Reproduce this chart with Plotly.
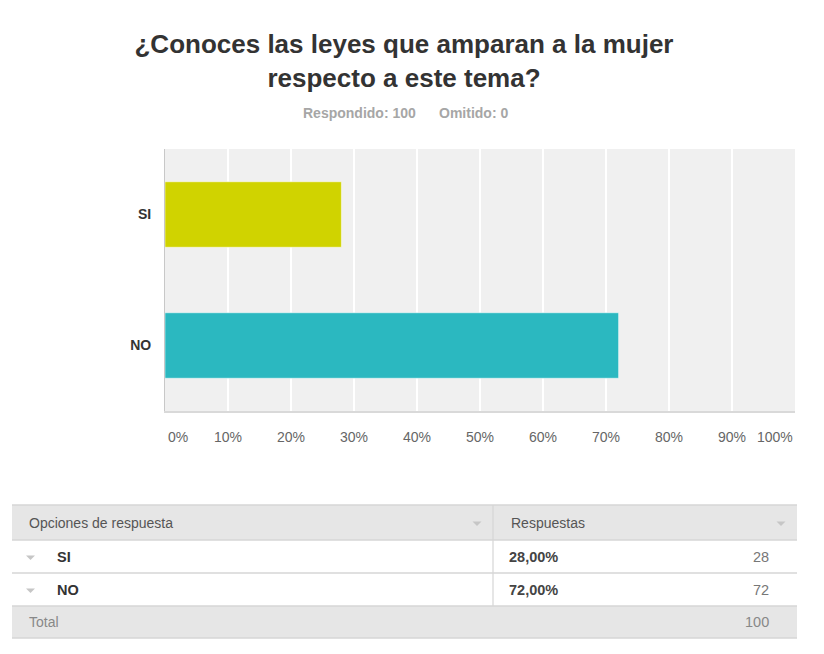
import plotly.graph_objects as go

# ── Data ──────────────────────────────────────────────────────────────────────
OPTIONS = ["SI", "NO"]
PERCENTS = [28, 72]
COUNTS = [28, 72]
TOTAL = 100
ANSWERED = 100
SKIPPED = 0
X_TICKS = [0, 10, 20, 30, 40, 50, 60, 70, 80, 90, 100]

TITLE = "¿Conoces las leyes que amparan a la mujer<br>respecto a este tema?"

# ── Palette ───────────────────────────────────────────────────────────────────
BAR_COLORS = ["#D0D300", "#2BB8C0"]
PLOT_BG = "#F0F0F0"
HEAD_BG = "#E6E6E6"
LINE = "#D6D6D6"
ARROW = "#C6C6C6"
FONT = "Liberation Sans, Arial, sans-serif"

OFF = 8                       # page body margin
W, H = 824 - OFF, 654 - OFF
L, R, T, B = 165, 795, 149, 411   # plot area in screen pixels


def px(x):
    return (x - L) / (R - L)


def py(y):
    return (B - y) / (B - T)


def arrow(cx, cy):
    """Small flat down-pointing caret used in the table."""
    path = (f"M {px(cx - 4.5)},{py(cy - 2)} L {px(cx + 4.5)},{py(cy - 2)} "
            f"L {px(cx)},{py(cy + 2.5)} Z")
    return dict(type="path", xref="paper", yref="paper", path=path,
                fillcolor=ARROW, line_width=0)


fig = go.Figure(go.Bar(
    x=PERCENTS, y=OPTIONS, orientation="h",
    marker=dict(color=BAR_COLORS, line=dict(color="rgba(255,255,255,0.5)", width=1)),
    width=0.5, hoverinfo="x+y",
))

annotations = [
    dict(text=f"<b>Respondido: {ANSWERED}</b>", x=px(418), y=py(113), xanchor="right",
         font=dict(size=14, color="#A6A6A6")),
    dict(text=f"<b>Omitido: {SKIPPED}</b>", x=px(437), y=py(113), xanchor="left",
         font=dict(size=14, color="#A6A6A6")),
]

# x tick labels (first/last kept inside the plot like the original)
for v in X_TICKS:
    anchor = "left" if v == 0 else ("right" if v == 100 else "center")
    xv = v + 0.15 if v == 0 else v
    annotations.append(dict(
        text=f"{v}%", x=xv, xref="x", y=py(437), xanchor=anchor,
        font=dict(size=14, color="#666666"),
    ))

# ── Table ─────────────────────────────────────────────────────────────────────
TX0, TX1, TCOL = 12, 797, 493
ROW_Y = [505, 540, 573, 606, 638]

shapes = [
    dict(type="rect", xref="paper", yref="paper", x0=px(TX0), x1=px(TX1),
         y0=py(ROW_Y[0]), y1=py(ROW_Y[1]), fillcolor=HEAD_BG, line_width=0, layer="below"),
    dict(type="rect", xref="paper", yref="paper", x0=px(TX0), x1=px(TX1),
         y0=py(ROW_Y[3]), y1=py(ROW_Y[4]), fillcolor=HEAD_BG, line_width=0, layer="below"),
]
for yy in ROW_Y:
    shapes.append(dict(type="line", xref="paper", yref="paper", x0=px(TX0), x1=px(TX1),
                       y0=py(yy), y1=py(yy), line=dict(color=LINE, width=1.5)))
shapes.append(dict(type="line", xref="paper", yref="paper", x0=px(TCOL), x1=px(TCOL),
                   y0=py(ROW_Y[0]), y1=py(ROW_Y[3]), line=dict(color=LINE, width=1.2)))

header_y = (ROW_Y[0] + ROW_Y[1]) / 2
shapes += [arrow(477, header_y + 1), arrow(781, header_y + 1)]
annotations += [
    dict(text="Opciones de respuesta", x=px(27), y=py(header_y), xanchor="left",
         font=dict(size=14, color="#555555")),
    dict(text="Respuestas", x=px(509), y=py(header_y), xanchor="left",
         font=dict(size=14, color="#555555")),
]
for i, (opt, pct, cnt) in enumerate(zip(OPTIONS, PERCENTS, COUNTS)):
    yc = (ROW_Y[i + 1] + ROW_Y[i + 2]) / 2
    shapes.append(arrow(30.5, yc + 1))
    annotations += [
        dict(text=f"<b>{opt}</b>", x=px(55), y=py(yc), xanchor="left",
             font=dict(size=14.5, color="#333333")),
        dict(text=f"<b>{pct:.2f}%</b>".replace(".", ","), x=px(507), y=py(yc), xanchor="left",
             font=dict(size=14.5, color="#444444")),
        dict(text=str(cnt), x=px(771), y=py(yc), xanchor="right",
             font=dict(size=14.5, color="#777777")),
    ]
total_y = (ROW_Y[3] + ROW_Y[4]) / 2
annotations += [
    dict(text="Total", x=px(27), y=py(total_y), xanchor="left",
         font=dict(size=14, color="#888888")),
    dict(text=str(TOTAL), x=px(771), y=py(total_y), xanchor="right",
         font=dict(size=14.5, color="#888888")),
]
for a in annotations:
    a.setdefault("xref", "paper")
    a.setdefault("yref", "paper")
    a.setdefault("showarrow", False)
    a.setdefault("yanchor", "middle")

fig.update_layout(
    width=W, height=H,
    margin=dict(l=L - OFF, r=W - (R - OFF), t=T - OFF, b=H - (B - OFF), pad=0),
    paper_bgcolor="white", plot_bgcolor=PLOT_BG,
    font=dict(family=FONT, color="#333333"),
    title=dict(text=f"<b>{TITLE}</b>", xref="container", x=(404 - OFF) / W, xanchor="center",
               yref="container", y=1 - (53 - OFF) / H, yanchor="middle",
               font=dict(size=26, color="#333333", family=FONT)),
    showlegend=False,
    xaxis=dict(range=[0, 100], tickvals=X_TICKS, showticklabels=False,
               showgrid=True, gridcolor="white", gridwidth=1.5,
               showline=True, linecolor="#D9D9D9", linewidth=2,
               zeroline=False, fixedrange=True),
    yaxis=dict(range=[1.5, -0.5], showgrid=False, zeroline=False,
               showline=True, linecolor="#C8C8C8", linewidth=1,
               tickvals=OPTIONS, ticktext=[f"<b>{o}</b>" for o in OPTIONS],
               tickfont=dict(size=14, color="#333333", family=FONT),
               ticklabelstandoff=10, fixedrange=True),
    annotations=annotations,
    shapes=shapes,
)

fig.write_html("out.html")
